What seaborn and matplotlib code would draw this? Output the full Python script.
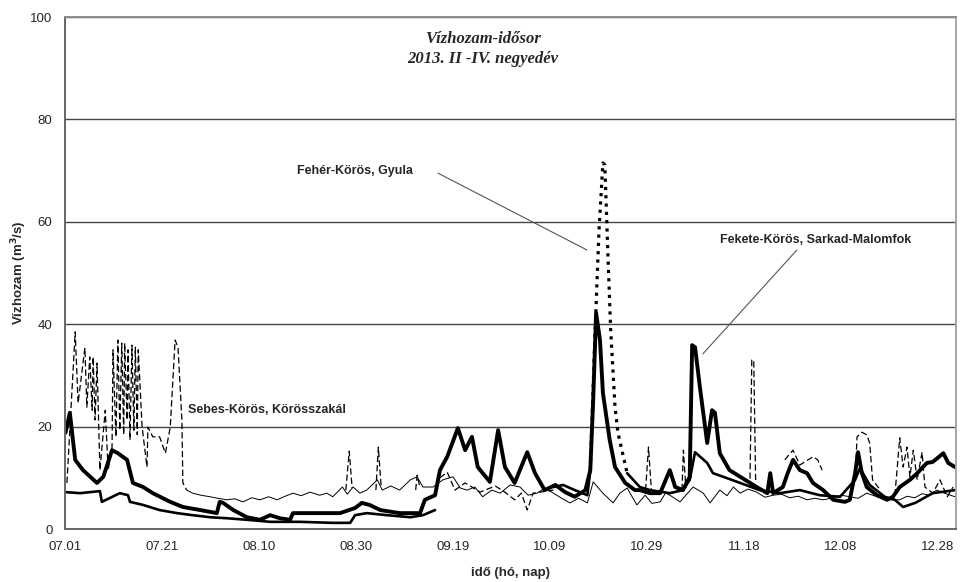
import numpy as np
import pandas as pd
import matplotlib
matplotlib.use("Agg")
import matplotlib.pyplot as plt
import seaborn as sns

START = pd.Timestamp("2013-07-01")
X_END_DAY = 183.7
TICK_DAYS = [0, 20, 40, 60, 80, 100, 120, 140, 160, 180]

# days after 07.01 / discharge m3/s ; None = gap in the record
fekete_day = [0.1, 1.0, 2.1, 3.7, 6.6, 7.9, 9.7, 10.9, 12.8, 14.0, 16.1, 18.1, 21.7, 24.3,
              27.9, 31.3, 31.9, 32.6, 34.7, 37.5, 40.2, 42.3, 44.3, 46.4, 47.0, 50.5,
              56.7, 59.8, 61.2, 62.8, 65.0, 69.0, 73.2, 74.2, 76.3, 77.3, 78.8, 81.0,
              82.5, 83.9, 85.1, 87.6, 89.3, 90.7, 92.7, 95.3, 96.9, 98.9, 101.1, 103.1,
              105.1, 107.3, 108.3, 108.9, 109.5, 110.3, 110.9, 112.3, 113.4, 115.5,
              117.5, 118.5, 120.6, 122.7, 124.7, 125.8, 127.4, 128.8, 129.3, 129.9,
              130.9, 132.4, 133.4, 134.0, 135.0, 137.0, 139.2, 142.6, 144.8, 145.4,
              146.0, 148.0, 149.0, 150.1, 151.5, 153.0, 154.2, 156.3, 158.4, 160.8,
              161.8, 162.9, 163.5, 164.3, 165.3, 167.4, 169.5, 170.7, 172.1, 174.2,
              175.7, 177.7, 178.9, 181.1, 182.1, 183.5]
fekete_q = [18.8, 22.7, 13.5, 11.5, 9.0, 10.2, 15.4, 14.8, 13.5, 9.0, 8.2, 7.0, 5.3, 4.3,
            3.7, 3.1, 5.3, 5.1, 3.7, 2.3, 1.8, 2.7, 2.1, 1.8, 3.1, 3.1,
            3.1, 4.1, 5.1, 4.7, 3.7, 3.1, 3.1, 5.7, 6.6, 11.5, 14.1, 19.7,
            15.4, 18.0, 12.1, 9.2, 19.3, 12.1, 9.0, 15.0, 10.9, 7.6, 8.6, 7.2,
            6.3, 7.6, 11.5, 25.2, 42.2, 36.9, 26.6, 17.4, 12.1, 9.0,
            7.6, 7.6, 7.0, 7.0, 11.5, 8.2, 7.6, 10.2, 35.9, 35.5,
            27.7, 16.8, 23.2, 22.7, 14.8, 11.5, 10.2, 8.2, 7.0, 10.9,
            7.0, 8.2, 10.9, 13.5, 11.5, 10.9, 9.0, 7.6, 5.7, 5.3,
            5.7, 10.9, 15.0, 10.9, 8.2, 6.6, 5.7, 6.3, 8.2, 9.6,
            10.9, 12.9, 13.1, 14.8, 12.9, 12.1]

feher_day = [0.1, 3.1, 7.2, 7.6, 11.3, 13.0, 13.4, 16.1, 19.5, 23.1, 26.3, 29.9, 33.4,
             37.5, 42.3, 48.4, 55.2, 58.8, 59.8, 62.2, 66.4, 71.2, 73.8, 76.3, None,
             100.7, 102.7, 105.1, 107.7, 108.3, None,
             115.9, 118.5, 120.6, 124.7, 127.4, 128.8, 129.9, 132.4, 133.6, 135.7,
             139.2, 143.2, 147.4, 151.5, 155.6, 159.8, 162.9, 163.9, 165.9, 169.0,
             171.1, 172.8, 175.3, 178.9, 183.5]
feher_q = [7.2, 7.0, 7.4, 5.3, 7.0, 6.6, 5.3, 4.7, 3.7, 3.1, 2.7, 2.3, 2.1,
           1.8, 1.4, 1.4, 1.2, 1.2, 2.7, 3.1, 2.7, 2.3, 2.7, 3.7, None,
           8.2, 8.6, 7.6, 6.6, 11.5, None,
           10.9, 8.2, 7.6, 7.0, 7.6, 9.6, 15.0, 12.9, 10.9, 10.2,
           9.0, 7.6, 7.0, 7.6, 6.6, 6.3, 9.6, 11.9, 8.6, 6.3,
           5.7, 4.3, 5.1, 7.0, 7.6]

# October flood wave of the Fehér-Körös (dotted in the original)
feher_peak_day = [108.3, 109.3, 110.1, 110.9, 111.3, 111.9, 112.5, 113.4, 114.0, 115.9]
feher_peak_q = [11.5, 38.9, 58.4, 71.5, 71.1, 54.5, 38.9, 23.8, 18.8, 10.9]

sebes_day = [25.1, 26.3, 28.0, 29.9, 31.5, 33.4, 35.0, 36.7, 38.5, 40.2, 42.0, 43.7, 45.4,
             47.0, 48.7, 50.5, 52.5, 54.0, 55.2, 57.2, 58.2, 59.4, 60.8, 62.2, 64.4,
             65.4, 67.2, 69.0, 71.2, 72.6, 73.8, 75.9, 77.9, 80.0, 81.5, 82.9, 84.5,
             86.1, 88.0, 89.7, 91.8, 93.8, 95.5, 97.3, 99.0, 100.7, 102.4, 104.1, 105.9,
             107.7, 108.9, 110.9, 113.0, 114.4, 115.9, 117.9, 119.6, 121.0, 122.7,
             123.8, 124.7, 126.8, 129.5, 131.6, 133.0, 135.0, 136.5, 137.8, 139.2,
             140.8, 142.6, 144.3, 146.0, 147.7, 149.4, 151.2, 153.0, 154.6, 156.3,
             158.4, 160.0, 161.8, 163.5, 165.3, 167.7, 170.0, 172.1, 173.6, 175.2,
             176.7, 178.2, 179.7, 181.3, 183.5]
sebes_q = [7.6, 7.0, 6.6, 6.3, 6.0, 5.7, 5.9, 5.3, 6.1, 5.7, 6.3, 5.7, 6.4,
           7.0, 6.5, 7.2, 6.6, 7.0, 6.3, 8.2, 6.8, 8.2, 7.0, 7.6, 9.6,
           7.6, 8.4, 7.6, 9.6, 10.2, 8.2, 8.2, 9.6, 10.2, 8.0, 7.6, 8.2,
           6.3, 7.6, 7.0, 8.6, 8.2, 6.6, 7.0, 8.0, 7.0, 6.0, 5.1, 6.0,
           5.1, 9.2, 7.0, 5.1, 7.0, 8.0, 4.7, 6.6, 5.0, 5.3,
           7.0, 6.6, 5.3, 8.2, 7.0, 5.1, 7.6, 6.5, 8.2, 7.0,
           7.8, 7.2, 6.2, 6.6, 6.8, 6.1, 6.4, 5.7, 6.0, 5.7,
           6.1, 6.6, 6.3, 6.0, 7.0, 6.2, 5.7, 5.7, 6.4, 6.1,
           6.9, 6.6, 7.6, 7.0, 6.3]

dashed_day = [0.4, 2.1, 2.7, 4.1, 4.5, 5.1, 5.6, 5.8, 6.2, 6.6, 7.2, 8.3, 8.9, 9.7,
              9.9, 10.5, 10.9, 11.3, 11.7, 12.1, 12.3, 12.8, 13.0, 13.4, 13.8, 14.2,
              14.5, 14.9, 15.1, 15.9, 16.9, 17.1, 18.1, 19.5, 20.7, 21.7, 22.7, 23.3,
              24.1, 24.3, 25.1, None,
              57.9, 58.6, 59.2, None, 64.1, 64.6, 65.2, None, 72.3, 72.6, 73.2, None,
              77.3, 78.8, 80.4, 82.5, 85.6, 88.7, 90.7, 92.7, 94.1, 95.3, 96.5, 100.7, None,
              119.7, 120.3, 120.9, None, 127.2, 127.5, 128.0, None,
              141.2, 141.6, 142.0, 142.4, None,
              148.4, 150.1, 151.5, 154.2, 155.2, 156.1, None,
              162.9, 163.3, 164.3, 165.3, 165.9, 166.5, 168.1, None,
              171.1, 172.1, 172.8, 173.6, 174.2, 174.9, 175.7, 176.7, 177.3, 178.9,
              180.4, 181.9, 183.1]
dashed_q = [9.0, 38.5, 24.6, 35.4, 23.8, 33.6, 23.2, 33.6, 21.3, 32.4, 11.5, 23.2, 11.5, 16.0,
            35.0, 18.0, 36.9, 19.3, 36.3, 18.4, 36.3, 21.3, 35.0, 17.4, 35.9, 19.3,
            35.5, 18.4, 35.0, 19.9, 12.1, 19.9, 18.0, 18.0, 14.8, 19.9, 36.9, 35.5,
            21.3, 9.0, 7.6, None,
            7.6, 15.2, 8.0, None, 7.6, 16.0, 8.0, None, 7.6, 10.5, 8.0, None,
            10.0, 11.1, 7.6, 9.0, 7.2, 8.4, 7.2, 5.7, 7.0, 3.7, 7.0, 7.6, None,
            7.6, 16.0, 7.6, None, 7.6, 15.4, 8.0, None,
            8.0, 33.0, 33.0, 9.0, None,
            13.5, 15.4, 12.5, 14.1, 13.5, 11.5, None,
            10.0, 18.0, 18.9, 18.4, 16.8, 9.6, 7.6, None,
            6.6, 17.8, 12.1, 16.0, 10.2, 15.4, 9.6, 15.0, 8.2, 7.0,
            9.6, 6.3, 8.2]


def to_frame(days, values):
    df = pd.DataFrame({"day": days, "q": values}, dtype=float)
    df["seg"] = df["q"].isna().cumsum()
    df = df.dropna()
    df["date"] = START + pd.to_timedelta(df["day"], unit="D")
    return df


def draw(ax, days, values, **kws):
    sns.lineplot(data=to_frame(days, values), x="date", y="q", units="seg",
                 estimator=None, color="black", ax=ax, **kws)


def at(day):
    return START + pd.Timedelta(days=day)


sns.set_style("white")
plt.rcParams["font.family"] = ["Liberation Sans", "DejaVu Sans"]

fig = plt.figure(figsize=(9.65, 5.82), dpi=100)
ax = fig.add_axes([65 / 965, 1 - 529 / 582, (956 - 65) / 965, (529 - 17) / 582])

draw(ax, sebes_day, sebes_q, linewidth=0.7)
draw(ax, dashed_day, dashed_q, linewidth=0.9, linestyle=(0, (5, 2.5)))
draw(ax, feher_day, feher_q, linewidth=1.9)
draw(ax, feher_peak_day, feher_peak_q, linewidth=2.3, linestyle=(0, (1, 1.6)))
draw(ax, fekete_day, fekete_q, linewidth=2.8)

ax.set_xlim(START, at(X_END_DAY))
ax.set_ylim(0, 100)
ticks = [at(d) for d in TICK_DAYS]
ax.set_xticks(ticks)
ax.set_xticklabels([t.strftime("%m.%d") for t in ticks], fontsize=9.5)
ax.set_yticks([0, 20, 40, 60, 80, 100])
ax.set_yticklabels(["0", "20", "40", "60", "80", "100"], fontsize=9.5)
ax.tick_params(axis="both", direction="out", length=5, width=1, color="#555555", pad=4)

ax.yaxis.grid(True, color="#444444", linewidth=1)
ax.set_axisbelow(True)
for side, col in [("left", "#666666"), ("bottom", "#666666"), ("top", "#8c8c8c"), ("right", "#a6a6a6")]:
    ax.spines[side].set_visible(True)
    ax.spines[side].set_color(col)
    ax.spines[side].set_linewidth(1.4)

ax.set_xlabel("idő (hó, nap)", fontsize=9.5, fontweight="bold", labelpad=10)
ax.set_ylabel("Vízhozam (m$^\\mathbf{3}$/s)", fontsize=9.5, fontweight="bold", labelpad=1)

ax.text(0.469, 0.958, "Vízhozam-idősor", transform=ax.transAxes, ha="center", va="center",
        fontsize=12, fontweight="bold", fontstyle="italic", family="Liberation Serif")
ax.text(0.469, 0.918, "2013. II -IV. negyedév", transform=ax.transAxes, ha="center", va="center",
        fontsize=12, fontweight="bold", fontstyle="italic", family="Liberation Serif")

lab = dict(fontsize=9, fontweight="bold", va="center", ha="left")
ax.text(at(47.8), 69.9, "Fehér-Körös, Gyula", **lab)
ax.plot([at(76.9), at(107.6)], [69.5, 54.5], color="#555555", linewidth=0.8)
ax.text(at(135.1), 56.4, "Fekete-Körös, Sarkad-Malomfok", **lab)
ax.plot([at(150.9), at(131.5)], [54.5, 34.2], color="#555555", linewidth=0.8)
ax.text(at(25.4), 23.2, "Sebes-Körös, Körösszakál", **lab)

fig.savefig("out.png", dpi=100)
